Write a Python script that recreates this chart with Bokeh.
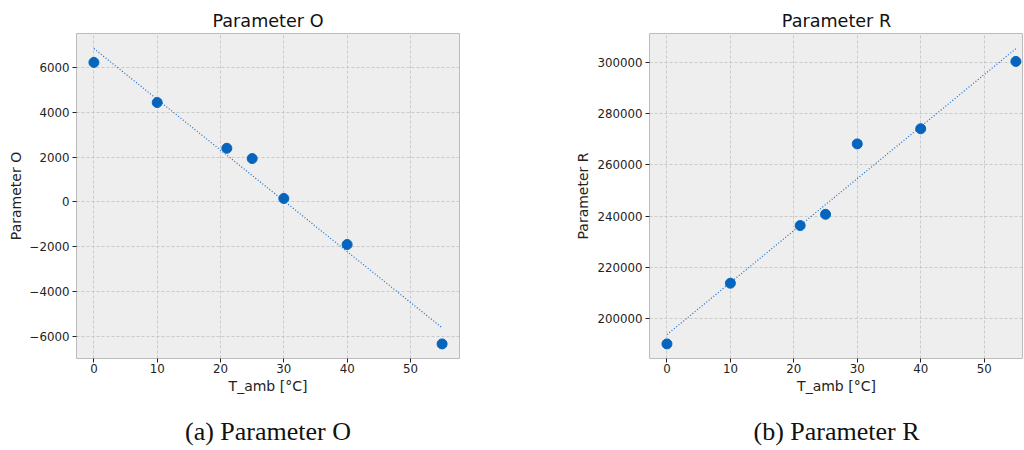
import numpy as np
from bokeh.plotting import figure
from bokeh.models import Range1d, FixedTicker, CustomJSTickFormatter, Title, Spacer
from bokeh.layouts import row, column
from bokeh.embed import file_html
from bokeh.resources import INLINE

# ---- data ----
t_amb = [0, 10, 21, 25, 30, 40, 55]
param_o = [6220, 4430, 2390, 1930, 150, -1905, -6340]
param_r = [190100, 213800, 236300, 240700, 268200, 274100, 300400]

x_ticks = [0, 10, 20, 30, 40, 50]
o_ticks = [-6000, -4000, -2000, 0, 2000, 4000, 6000]
r_ticks = [200000, 220000, 240000, 260000, 280000, 300000]

titles = ["Parameter O", "Parameter R"]
captions = ["(a) Parameter O", "(b) Parameter R"]
x_label = "T_amb [°C]"

PT = "#0565BD"
LINE = "#1a6cc8"
BG = "#eeeeee"

fmt = CustomJSTickFormatter(code="""
    return tick < 0 ? '\u2212' + Math.abs(tick).toString() : tick.toString();
""")


def make(title, caption, y, yticks, yrange, xend, fw, left, right):
    p = figure(output_backend="svg", toolbar_location=None,
               frame_width=fw, frame_height=325,
               x_range=Range1d(-2.75, xend), y_range=Range1d(*yrange),
               min_border_left=left, min_border_right=right,
               min_border_top=0, min_border_bottom=0)
    p.title.text = title
    p.title.align = "center"
    p.title.text_font = "DejaVu Sans"
    p.title.text_font_size = "17.6px"
    p.title.text_font_style = "normal"
    p.title.text_color = "#111111"
    p.title.standoff = 6

    p.background_fill_color = BG
    p.border_fill_color = "white"
    p.outline_line_color = "#bcbcbc"
    p.outline_line_width = 1

    for ax in (p.xaxis[0], p.yaxis[0]):
        ax.axis_line_color = None
        ax.major_tick_line_color = "#222222"
        ax.major_tick_out = 4
        ax.major_tick_in = 0
        ax.minor_tick_line_color = None
        ax.major_label_text_font = "DejaVu Sans"
        ax.major_label_text_font_size = "11.8px"
        ax.major_label_text_color = "#222222"
        ax.axis_label_text_font = "DejaVu Sans"
        ax.axis_label_text_font_size = "14px"
        ax.axis_label_text_font_style = "normal"
        ax.axis_label_text_color = "#222222"

    p.xaxis[0].major_label_standoff = 1
    p.xaxis[0].axis_label_standoff = 2
    p.yaxis[0].major_label_standoff = 3
    p.yaxis[0].axis_label_standoff = 3

    p.xaxis[0].ticker = FixedTicker(ticks=x_ticks)
    p.yaxis[0].ticker = FixedTicker(ticks=yticks)
    p.yaxis[0].formatter = fmt
    p.xaxis[0].axis_label = x_label
    p.yaxis[0].axis_label = title

    for g in (p.xgrid[0], p.ygrid[0]):
        g.grid_line_color = "#c0c0c0"
        g.grid_line_width = 0.8
        g.grid_line_dash = "3 2"

    # least-squares fit line through the data
    k, d = np.polyfit(t_amb, y, 1)
    xs = [t_amb[0], t_amb[-1]]
    ys = [k * xs[0] + d, k * xs[1] + d]
    p.line(xs, ys, line_color=LINE, line_width=1.2, line_dash="1 2")

    p.scatter(t_amb, y, size=10, fill_color=PT, line_color=PT)

    cap = Title(text=caption, align="center", text_font="Liberation Serif",
                text_font_size="26px", text_font_style="normal",
                text_color="#111111", offset=6, standoff=37)
    p.add_layout(cap, "below")
    return p


p1 = make(titles[0], captions[0], param_o, o_ticks, (-6990, 7510), 57.75, 383, 68, 110)
p2 = make(titles[1], captions[1], param_r, r_ticks, (184400, 311300), 56.2, 374, 80, 0)

layout = column(Spacer(height=5), row(Spacer(width=4), p1, p2))
open("out.html", "w").write(file_html(layout, INLINE))
